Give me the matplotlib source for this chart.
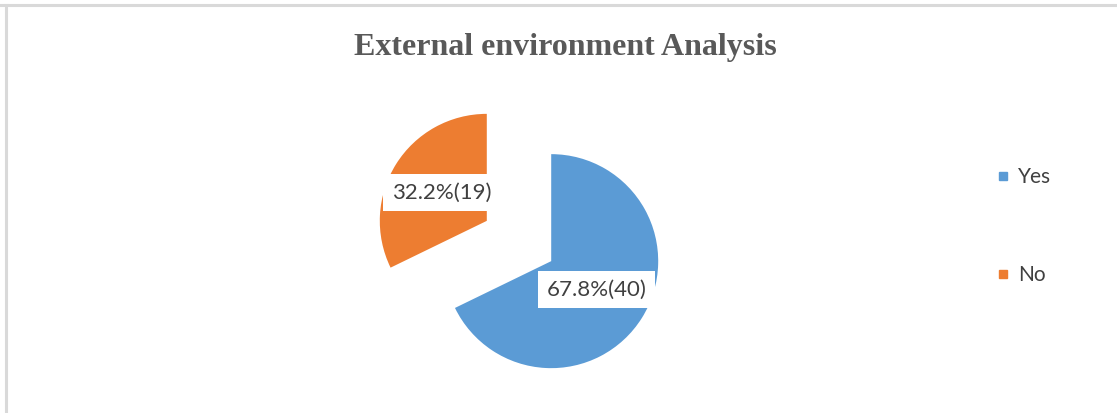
import matplotlib
matplotlib.use('Agg')
import matplotlib.pyplot as plt
from matplotlib.lines import Line2D

# Data
labels = ['Yes', 'No']
counts = [40, 19]
colors = ['#5B9BD5', '#ED7D31']

W, H = 1117, 413
fig = plt.figure(figsize=(W / 100, H / 100), dpi=100)

# Light grey frame (top and left edges visible)
fig.add_artist(Line2D([0, 1], [1 - 4.5 / H, 1 - 4.5 / H], color='#d9d9d9', lw=2.2))
fig.add_artist(Line2D([5.5 / W, 5.5 / W], [0, 1 - 4.5 / H], color='#d9d9d9', lw=2.2))

# Title
fig.text(565 / W, 1 - 47 / H, 'External environment Analysis', ha='center', va='center',
         fontsize=23, fontweight='bold', family='Liberation Serif', color='#595959')

# Pie axes: centre (519, 241) px, radius 107 px, limits +-1.5
r_px = 107
cx, cy = 519, 241
side = 3 * r_px
ax = fig.add_axes([(cx - side / 2) / W, (H - cy - side / 2) / H, side / W, side / H])
ax.set_aspect('equal')
ax.axis('off')

total = sum(counts)

def fmt(pct):
    n = int(round(pct * total / 100))
    return f"{pct:.1f}%({n})"

wedges, texts, autotexts = ax.pie(
    counts,
    colors=colors,
    startangle=90,
    counterclock=False,
    explode=[0.355, 0.355],
    autopct=fmt,
    pctdistance=0.5,
    textprops={'fontsize': 16, 'family': 'Lato', 'color': '#404040'},
)
ax.set_xlim(-1.5, 1.5)
ax.set_ylim(-1.5, 1.5)

for t in autotexts:
    t.set_bbox(dict(facecolor='white', edgecolor='none', boxstyle='square,pad=0.4'))

# Legend
handles = [Line2D([], [], marker='s', linestyle='none', markersize=6,
                  markerfacecolor=c, markeredgecolor=c) for c in colors]
fig.legend(handles, labels, loc='center left', bbox_to_anchor=(976 / W, 1 - 226 / H),
           frameon=False, labelspacing=3.75, handletextpad=0.3, handlelength=0.8,
           prop={'family': 'Lato', 'size': 15}, labelcolor='#404040')

fig.savefig('out.png', dpi=100, facecolor='white')
